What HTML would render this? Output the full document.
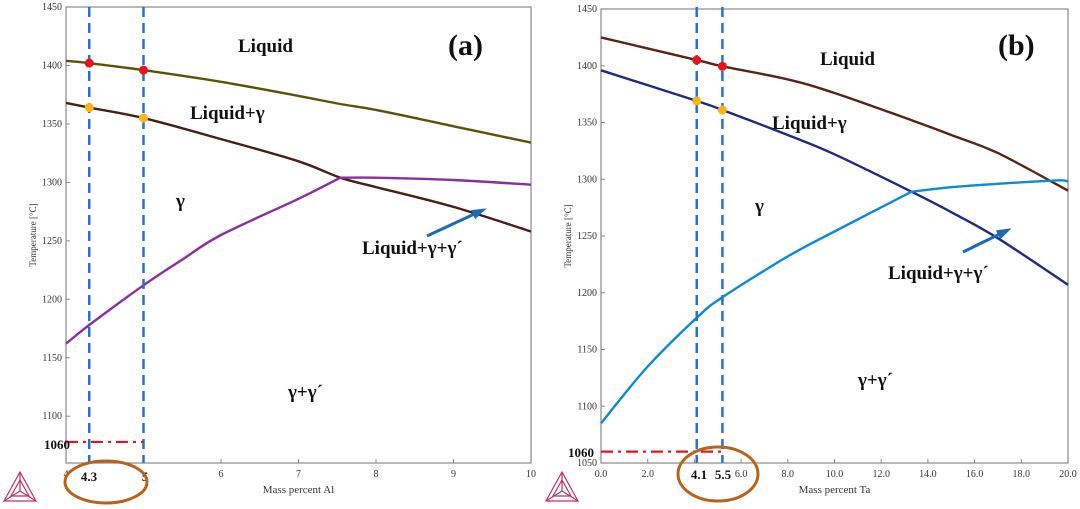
<!DOCTYPE html>
<html><head><meta charset="utf-8"><style>
html,body{margin:0;padding:0;background:#fff;}
svg{display:block;font-family:"Liberation Serif",serif;}
</style></head><body>
<svg id="svg" width="1080" height="509" viewBox="0 0 1080 509"></svg>
<script>
const aCatX=[4,4.3,5,6,7,7.54,8,9,10];
const aLiquidus=[1404,1402,1396,1386,1374,1367,1362,1348,1334];
const aSolidus=[1368,1364,1355,1337,1318,1304,1296,1279,1258];
const aPurpleX=[4,4.3,5,5.5,6,7,7.54,8,9,10];
const aPurple=[1162,1178,1212,1234,1255,1286,1304,1304,1302,1298];
const aXTicks=[4,5,6,7,8,9,10];
const aYTicks=[1100,1150,1200,1250,1300,1350,1400,1450];
const bCatX=[0,4.1,5.2,8,10,13.3,15,17,20];
const bLiquidus=[1425,1405,1399.5,1388,1376,1352,1339,1323,1290];
const bSolidus=[1396,1369,1361,1339,1322,1289,1271,1248,1207];
const bBlueX=[0,2,4.1,5.2,8,10,13.3,15,17,19.5,20];
const bBlue=[1085,1135,1178,1196,1232,1254,1289,1293,1296,1299,1298];
const bXTicks=[0,2,4,6,8,10,12,14,16,18,20];
const bYTicks=[1050,1100,1150,1200,1250,1300,1350,1400,1450];

const NS="http://www.w3.org/2000/svg";
const svg=document.getElementById('svg');
function el(tag,attrs,parent,name,inter){const e=document.createElementNS(NS,tag);for(const k in attrs)e.setAttribute(k,attrs[k]);


(parent||svg).appendChild(e);return e;}
function txt(x,y,s,attrs,name){const t=el('text',Object.assign({x:x,y:y},attrs),svg,name,false);t.textContent=s;return t;}
function smooth(P,first){let d=(first?'M':'L')+P[0][0].toFixed(1)+','+P[0][1].toFixed(1);
 for(let i=0;i<P.length-1;i++){const p0=P[i-1]||P[i],p1=P[i],p2=P[i+1],p3=P[i+2]||P[i+1];
  const c1=[p1[0]+(p2[0]-p0[0])/6,p1[1]+(p2[1]-p0[1])/6],c2=[p2[0]-(p3[0]-p1[0])/6,p2[1]-(p3[1]-p1[1])/6];
  d+=`C${c1[0].toFixed(1)},${c1[1].toFixed(1)} ${c2[0].toFixed(1)},${c2[1].toFixed(1)} ${p2[0].toFixed(1)},${p2[1].toFixed(1)}`;}
 return d;}

function chart(o){
 const sx=v=>o.x0+(v-o.xmin)/(o.xmax-o.xmin)*(o.x1-o.x0);
 const sy=v=>o.y1-(v-o.ymin)/(o.ymax-o.ymin)*(o.y1-o.y0);
 el('rect',{x:o.x0,y:o.y0,width:o.x1-o.x0,height:o.y1-o.y0,fill:'none',stroke:'#888','stroke-width':1.2},svg,o.id+'-frame',false);
 o.xt.forEach(v=>{el('line',{x1:sx(v),x2:sx(v),y1:o.y1,y2:o.y1-4,stroke:'#888'},svg,o.id+'-x-tick',false);
   if(!(o.skipX||[]).includes(v))txt(sx(v),o.y1+14,o.fmt(v),{'font-size':10,'text-anchor':'middle',fill:'#333'},o.id+'-x-tick-label');});
 o.yt.forEach(v=>{el('line',{x1:o.x0,x2:o.x0+4,y1:sy(v),y2:sy(v),stroke:'#888'},svg,o.id+'-y-tick',false);
   txt(o.x0-4,sy(v)+3,String(v),{'font-size':10,'text-anchor':'end',fill:'#333'},o.id+'-y-tick-label');});
 txt((o.x0+o.x1)/2,o.y1+30,o.xlabel,{'font-size':11,'text-anchor':'middle',fill:'#333'},o.id+'-x-axis-title');
 txt(0,0,'Temperature [°C]',{'font-size':9,'text-anchor':'middle',fill:'#333',transform:`translate(${o.x0-30},${(o.y0+o.y1)/2}) rotate(-90)`},o.id+'-y-axis-title');
 o.series.forEach(s=>{const P=s.x.map((v,i)=>[sx(v),sy(s.y[i])]);
   let d;
   if(s.k!=null){d=smooth(P.slice(0,s.k+1),true)+smooth(P.slice(s.k),false);}else d=smooth(P,true);
   el('path',{d:d,fill:'none',stroke:s.c,'stroke-width':2.4},svg,o.id+'-'+s.n,false);});
 return {sx,sy};
}

const A=chart({id:'a',x0:66,x1:531,y0:7,y1:463,xmin:4,xmax:10,ymin:1060,ymax:1450,xt:aXTicks,yt:aYTicks,fmt:v=>String(v),skipX:[5],xlabel:'Mass percent Al',
 series:[{n:'liquidus-line',x:aCatX,y:aLiquidus,c:'#5e5208'},{n:'solidus-line',x:aCatX,y:aSolidus,c:'#4a1e14'},{n:'gamma-prime-solvus',x:aPurpleX,y:aPurple,c:'#8a2ea0',k:6}]});
const B=chart({id:'b',x0:601,x1:1068,y0:9,y1:463,xmin:0,xmax:20,ymin:1050,ymax:1450,xt:bXTicks,yt:bYTicks,fmt:v=>v.toFixed(1),skipX:[4],xlabel:'Mass percent Ta',
 series:[{n:'liquidus-line',x:bCatX,y:bLiquidus,c:'#5a2412'},{n:'solidus-line',x:bCatX,y:bSolidus,c:'#1c2c82'},{n:'gamma-prime-solvus',x:bBlueX,y:bBlue,c:'#0a8ad8',k:6}]});

function ann(C,id,xs,liq,sol,redY,xmin){
 xs.forEach((v,i)=>{el('line',{x1:C.sx(v),x2:C.sx(v),y1:7,y2:463,stroke:'#2a6fd0','stroke-width':2.5,'stroke-dasharray':'10,6'},svg,id+'-dashed-line',false);
  el('circle',{cx:C.sx(v),cy:C.sy(liq[i]),r:4.5,fill:'#e8141a'},svg,id+'-liquidus-point',false);
  el('circle',{cx:C.sx(v),cy:C.sy(sol[i]),r:4.5,fill:'#fbb414'},svg,id+'-solidus-point',false);});
 el('line',{x1:C.sx(xmin),x2:C.sx(xs[1]),y1:C.sy(redY),y2:C.sy(redY),stroke:'#e8141a','stroke-width':2.2,'stroke-dasharray':'12,5,3,5'},svg,id+'-1060-line',false);
}
ann(A,'a',[4.3,5],[1402,1396],[1364,1355],1078,4);
ann(B,'b',[4.1,5.2],[1405,1399.5],[1369,1361],1060,0);

const bold={'font-size':19,'font-weight':'bold',fill:'#111'};
txt(238,52,'Liquid',bold,'a-liquid-label');
txt(448,55,'(a)',{'font-size':30,'font-weight':'bold',fill:'#111'},'a-panel-label');
txt(190,119,'Liquid+γ',bold,'a-liquid-gamma-label');
txt(176,207,'γ',bold,'a-gamma-label');
txt(362,254,'Liquid+γ+γ´',bold,'a-liquid-gamma-gammaprime-label');
txt(288,398,'γ+γ´',bold,'a-gamma-gammaprime-label');
txt(820,65,'Liquid',bold,'b-liquid-label');
txt(998,55,'(b)',{'font-size':30,'font-weight':'bold',fill:'#111'},'b-panel-label');
txt(772,129,'Liquid+γ',bold,'b-liquid-gamma-label');
txt(755,212,'γ',bold,'b-gamma-label');
txt(888,279,'Liquid+γ+γ´',bold,'b-liquid-gamma-gammaprime-label');
txt(858,386,'γ+γ´',bold,'b-gamma-gammaprime-label');

const tb={'font-size':13,'font-weight':'bold',fill:'#111'};
txt(44,449,'1060',tb,'a-1060-label');
txt(89,481,'4.3',Object.assign({'text-anchor':'middle'},tb),'a-4.3-label');
txt(145,481,'5',Object.assign({'text-anchor':'middle'},tb),'a-5-label');
txt(568,457,'1060',tb,'b-1060-label');
txt(699,479,'4.1',Object.assign({'text-anchor':'middle'},tb),'b-4.1-label');
txt(723,479,'5.5',Object.assign({'text-anchor':'middle'},tb),'b-5.5-label');
el('ellipse',{cx:106,cy:482,rx:41,ry:21,fill:'none',stroke:'#b8621c','stroke-width':3},svg,'a-highlight-ellipse',false);
el('ellipse',{cx:718,cy:474,rx:40,ry:27,fill:'none',stroke:'#b8621c','stroke-width':3},svg,'b-highlight-ellipse',false);

function arrow(x1,y1,x2,y2,name){el('line',{x1,y1,x2,y2,stroke:'#1a6ab8','stroke-width':3},svg,name,false);
 const a=Math.atan2(y2-y1,x2-x1),L=11,W=5;
 const p=[[x2+4*Math.cos(a),y2+4*Math.sin(a)],[x2-L*Math.cos(a)+W*Math.sin(a),y2-L*Math.sin(a)-W*Math.cos(a)],[x2-L*Math.cos(a)-W*Math.sin(a),y2-L*Math.sin(a)+W*Math.cos(a)]];
 el('polygon',{points:p.map(q=>q.join(',')).join(' '),fill:'#1a6ab8'},svg,name+'-head',false);}
arrow(427,236,483,210,'a-arrow');
arrow(963,252,1008,230,'b-arrow');

function logo(cx,cy,name){const g=el('g',{stroke:'#c03060','stroke-width':1.2,fill:'none'},svg,name,false);
 el('polygon',{points:`${cx},${cy-18} ${cx-16},${cy+11} ${cx+16},${cy+11}`},g,name+'-outer',false);
 el('polygon',{points:`${cx},${cy-10} ${cx-9},${cy+6} ${cx+9},${cy+6}`},g,name+'-inner',false);
 el('path',{d:`M${cx},${cy-18}L${cx},${cy+1}M${cx-16},${cy+11}L${cx},${cy+1}M${cx+16},${cy+11}L${cx},${cy+1}`},g,name+'-spokes',false);}
logo(20,490,'a-logo');logo(562,490,'b-logo');
</script>
</body></html>
